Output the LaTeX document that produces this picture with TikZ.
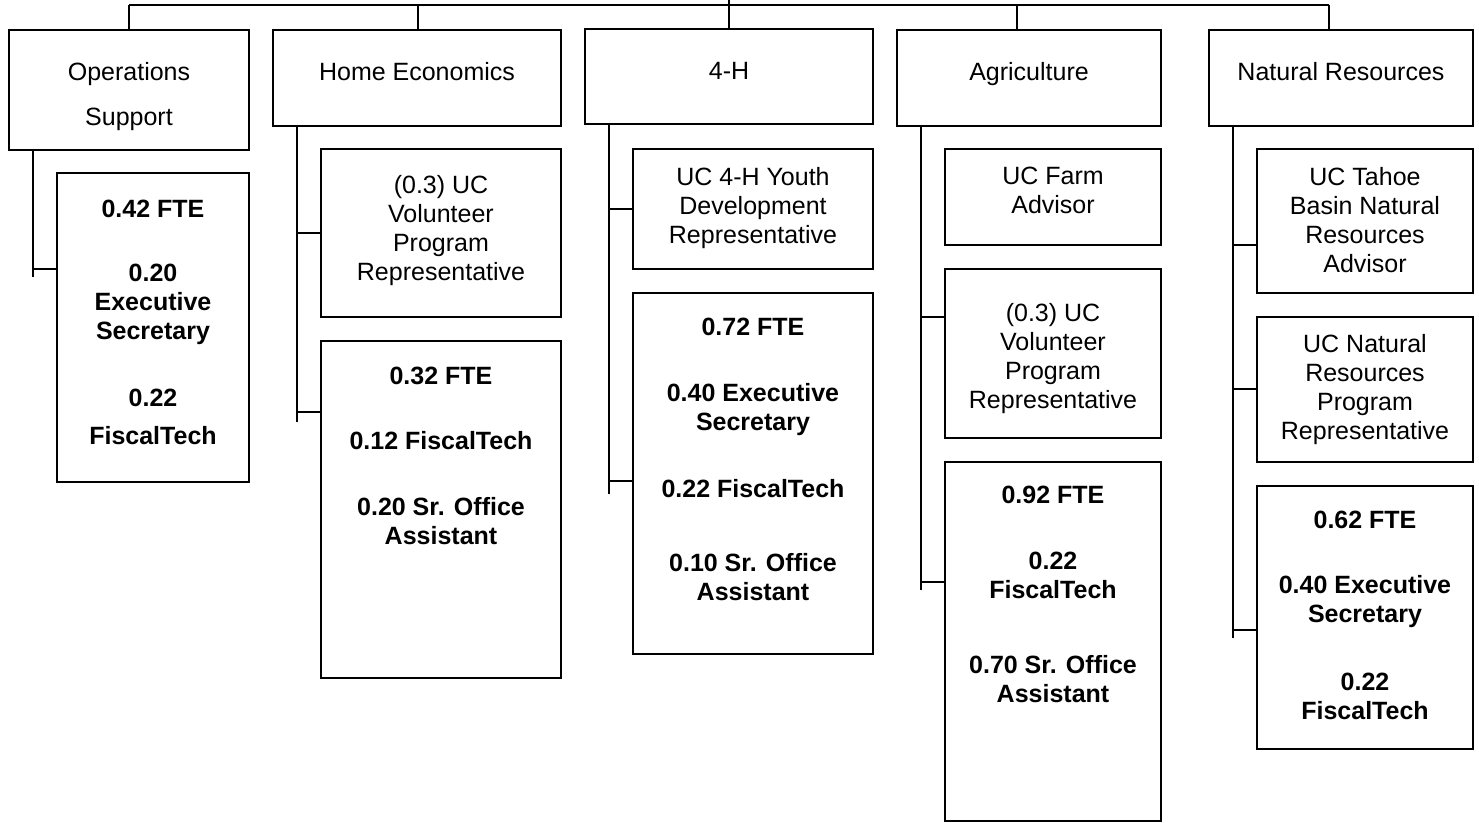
\documentclass[tikz,border=0pt]{standalone}
\usepackage{fontspec}
\setmainfont{Liberation Sans}
\tikzset{
  unit box/.style={draw, line width=0.9pt, inner sep=0pt, outer sep=0pt},
  box text/.style={anchor=north, inner sep=0pt, align=center, font=\fontsize{12.5}{14.5}\selectfont},
  fte text/.style={box text, font=\fontsize{12.5}{14.5}\selectfont\bfseries},
  link/.style={line width=0.9pt},
}
% box from (x0,y0) to (x1,y1) in pixels, text hung from its top
\newcommand{\orgbox}[8]{%
  \node[unit box, minimum width={(#4-#2)*0.5pt}, minimum height={(#5-#3)*0.5pt}] (#1) at ({(#2+#4)/2},{(#3+#5)/2}) {};
  \node[#6] (#1-txt) at ({(#2+#4)/2},#7) {#8};}
\begin{document}
\begin{tikzpicture}[x={0.5pt}, y={-0.5pt}]
  \useasboundingbox (0,0) rectangle (1479,823);
  % program heads
  \orgbox{ops}{9}{30}{249}{150}{box text}{62}{Operations\\[8pt]Support}
  \orgbox{he}{273}{30}{561}{126}{box text}{62}{Home Economics}
  \orgbox{fh}{585}{29}{873}{124}{box text}{62}{4-H}
  \orgbox{ag}{897}{30}{1161}{126}{box text}{62}{Agriculture}
  \orgbox{nr}{1209}{30}{1473}{126}{box text}{62}{Natural Resources}
  % staff under each head
  \orgbox{ops-a}{57}{173}{249}{482}{fte text}{200}{0.42 FTE\\[17.5pt]0.20\\Executive\\Secretary\\[19pt]0.22\\[4.5pt]FiscalTech}
  \orgbox{he-a}{321}{149}{561}{317}{box text}{175}{(0.3) UC\\Volunteer\\Program\\Representative}
  \orgbox{he-b}{321}{341}{561}{678}{fte text}{367}{0.32 FTE\\[18pt]0.12 FiscalTech\\[18.5pt]0.20 Sr. Office\\Assistant}
  \orgbox{fh-a}{633}{149}{873}{269}{box text}{167}{UC 4-H Youth\\Development\\Representative}
  \orgbox{fh-b}{633}{293}{873}{654}{fte text}{318}{0.72 FTE\\[18.5pt]0.40 Executive\\Secretary\\[19pt]0.22 FiscalTech\\[22.5pt]0.10 Sr. Office\\Assistant}
  \orgbox{ag-a}{945}{149}{1161}{245}{box text}{167}{UC Farm\\Advisor}
  \orgbox{ag-b}{945}{269}{1161}{438}{box text}{303}{(0.3) UC\\Volunteer\\Program\\Representative}
  \orgbox{ag-c}{945}{462}{1161}{821}{fte text}{486}{0.92 FTE\\[18.5pt]0.22\\FiscalTech\\[23pt]0.70 Sr. Office\\Assistant}
  \orgbox{nr-a}{1257}{149}{1473}{293}{box text}{167}{UC Tahoe\\Basin Natural\\Resources\\Advisor}
  \orgbox{nr-b}{1257}{317}{1473}{462}{box text}{334}{UC Natural\\Resources\\Program\\Representative}
  \orgbox{nr-c}{1257}{486}{1473}{749}{fte text}{511}{0.62 FTE\\[18pt]0.40 Executive\\Secretary\\[19.5pt]0.22\\FiscalTech}
  % top bus
  \coordinate (root) at (729,0);
  \foreach \n/\x in {1/129, 2/418, 3/729, 4/1017, 5/1329}
    \coordinate (b\n) at (\x,5);
  \draw[link] (b1) -- (b5);
  \draw[link] (root) -- (fh.north);
  \foreach \n/\h in {1/ops, 2/he, 4/ag, 5/nr}
    \draw[link] (b\n) -- (b\n |- \h.north);
  % verticals and branches
  \foreach \h/\x/\y in {ops/33/277, he/297/422, fh/609/494, ag/921/590, nr/1233/638} {
    \coordinate (\h-end) at (\x,\y);
    \draw[link] (\h.south -| \h-end) -- (\h-end);
  }
  \foreach \b/\y in {ops-a/269, he-a/233, he-b/412, fh-a/209, fh-b/481, ag-b/317, ag-c/582, nr-a/245, nr-b/389, nr-c/630}
    \draw[link] (\b.west |- 0,\y) -- ++(-24,0);
\end{tikzpicture}
\end{document}
